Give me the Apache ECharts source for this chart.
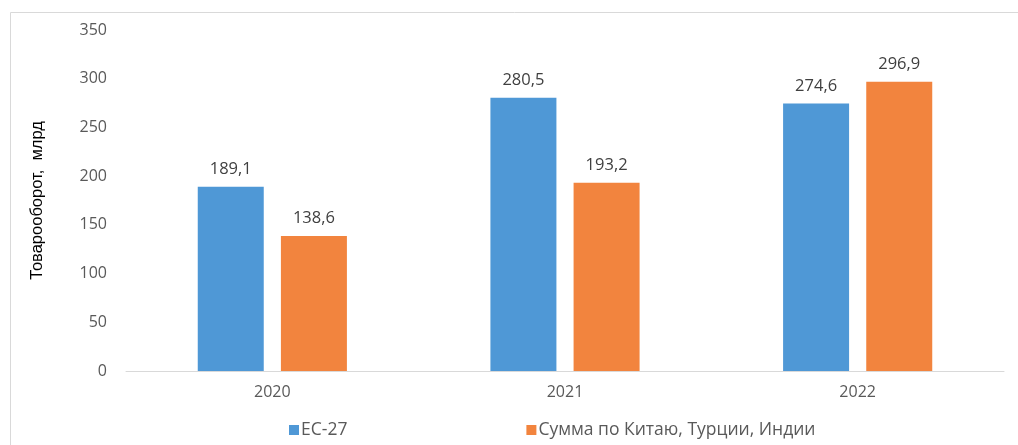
<!DOCTYPE html>
<html lang="ru">
  <head>
    <meta charset="UTF-8" />
    <title>Товарооборот</title>
    <style>
      html, body { margin: 0; padding: 0; background: #fff; }
      #chart { width: 1018px; height: 445px; }
    </style>
  </head>
  <body>
    <div id="chart"></div>
    <script src="https://cdn.jsdelivr.net/npm/echarts@6/dist/echarts.min.js"></script>
    <script>
      const years = ["2020", "2021", "2022"];
      const eu27 = [189.1, 280.5, 274.6];
      const asia = [138.6, 193.2, 296.9];
      const seriesNames = ["ЕС-27", "Сумма по Китаю, Турции, Индии"];

      const fmt = (p) => String(p.value).replace(".", ",");
      const font = "'Open Sans', 'Noto Sans', sans-serif";

      const myChart = echarts.init(document.querySelector("#chart"));
      const option = {
        textStyle: { fontFamily: font },
        animation: false,
        graphic: [
          {
            type: "rect",
            shape: { x: 10.5, y: 12.5, width: 1020, height: 440 },
            style: { fill: "none", stroke: "#d9d9d9", lineWidth: 1 }
          }
        ],
        grid: { left: 126, right: 14, top: 30, bottom: 74 },
        legend: {
          top: 416,
          left: 284,
          itemGap: 179,
          itemWidth: 10,
          itemHeight: 10,
          icon: "rect",
          textStyle: { fontSize: 17.5, color: "#595959", fontFamily: font, padding: [0, 0, 0, -3] },
          data: seriesNames
        },
        xAxis: {
          type: "category",
          data: years,
          axisLine: { lineStyle: { color: "#d9d9d9" } },
          axisTick: { show: false },
          axisLabel: { fontSize: 16, color: "#595959", margin: 13 }
        },
        yAxis: {
          type: "value",
          min: 0,
          max: 350,
          interval: 50,
          name: "Товарооборот,  млрд",
          nameLocation: "middle",
          nameGap: 80,
          nameTextStyle: { fontSize: 16.5, color: "#000", fontFamily: "'Liberation Sans', Arial, sans-serif" },
          splitLine: { show: false },
          axisLine: { show: false },
          axisTick: { show: false },
          axisLabel: { fontSize: 16, color: "#595959", margin: 19 }
        },
        series: [
          {
            name: seriesNames[0],
            type: "bar",
            data: eu27,
            barWidth: 66,
            barGap: "26%",
            itemStyle: { color: "#4f98d6" },
            label: { show: true, position: "top", distance: 9, fontSize: 16.5, color: "#404040", formatter: fmt }
          },
          {
            name: seriesNames[1],
            type: "bar",
            data: asia,
            barWidth: 66,
            barGap: "26%",
            itemStyle: { color: "#f2843e" },
            label: { show: true, position: "top", distance: 9, fontSize: 16.5, color: "#404040", formatter: fmt }
          }
        ]
      };
      myChart.setOption(option);
    </script>
  </body>
</html>
